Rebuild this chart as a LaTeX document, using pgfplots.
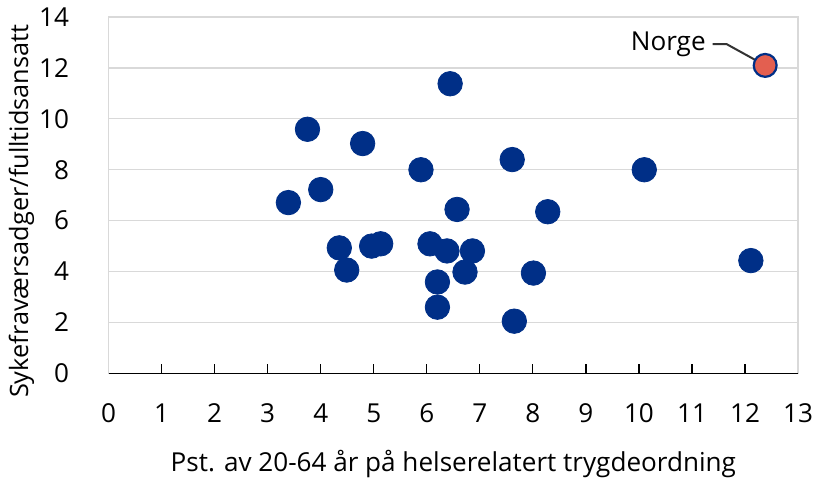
\documentclass[border=0pt]{standalone}
\usepackage{fontspec}
\setmainfont{Open Sans}
\usepackage{pgfplots}
\pgfplotsset{compat=1.18}
\definecolor{dblue}{HTML}{002F87}
\definecolor{nred}{HTML}{E35F50}
\definecolor{gridgrey}{HTML}{D9D9D9}
\begin{document}
\fontsize{13pt}{15pt}\selectfont
\begin{tikzpicture}
\begin{axis}[
  width=343.5pt, height=177.5pt, scale only axis,
  xmin=0, xmax=13, ymin=0, ymax=14,
  xtick={0,...,13}, ytick={0,2,...,14},
  xtick pos=bottom, ytick pos=left,
  tick align=inside,
  major tick length=4.5pt,
  x tick style={black, line width=0.6pt},
  y tick style={draw=none},
  axis line style={gridgrey, line width=0.6pt},
  ymajorgrids, major grid style={gridgrey, line width=0.6pt},
  ticklabel style={font=\fontsize{13pt}{15pt}\selectfont, inner sep=1pt},
  xticklabel style={yshift=-14pt},
  yticklabel style={xshift=-18.5pt},
  /pgf/number format/assume math mode=true,
  label style={font=\fontsize{13pt}{15pt}\selectfont},
  xlabel={Pst. av 20-64 år på helserelatert trygdeordning},
  ylabel={Sykefraværsadger/fulltidsansatt},
  xlabel style={yshift=-8pt},
  ylabel style={yshift=-3pt, xshift=-8pt, font=\fontsize{12.6pt}{15pt}\selectfont},
  clip=false,
  after end axis/.code={
    \draw[black, line width=0.8pt] (rel axis cs:0,0) -- (rel axis cs:1,0);
    \path (rel axis cs:0,1) ++(0,8.5pt);
  },
]
\addplot[only marks, mark=*, mark size=6.1pt, mark options={fill=dblue, draw=dblue}] coordinates {
(3.39,6.71) (3.75,9.59) (4.0,7.22) (4.35,4.93) (4.49,4.06) (4.79,9.03)
(4.96,5.0) (5.13,5.09) (5.89,8.0) (6.06,5.09) (6.44,11.38) (6.38,4.81)
(6.57,6.44) (6.2,3.59) (6.2,2.6) (6.72,3.98) (6.86,4.81) (7.61,8.40)
(7.65,2.05) (8.01,3.94) (8.28,6.35) (10.1,8.0) (12.11,4.43)
};
\addplot[only marks, mark=*, mark size=5.7pt, mark options={fill=nred, draw=dblue, line width=1.1pt}] coordinates {(12.38,12.1)};
\draw[black!80, line width=1pt] (axis cs:12.38,12.1) -- (axis cs:11.65,12.94) -- (axis cs:11.39,12.94) node[left, inner sep=3pt, black, font=\fontsize{13pt}{15pt}\selectfont] {Norge};
\end{axis}
\end{tikzpicture}
\end{document}
